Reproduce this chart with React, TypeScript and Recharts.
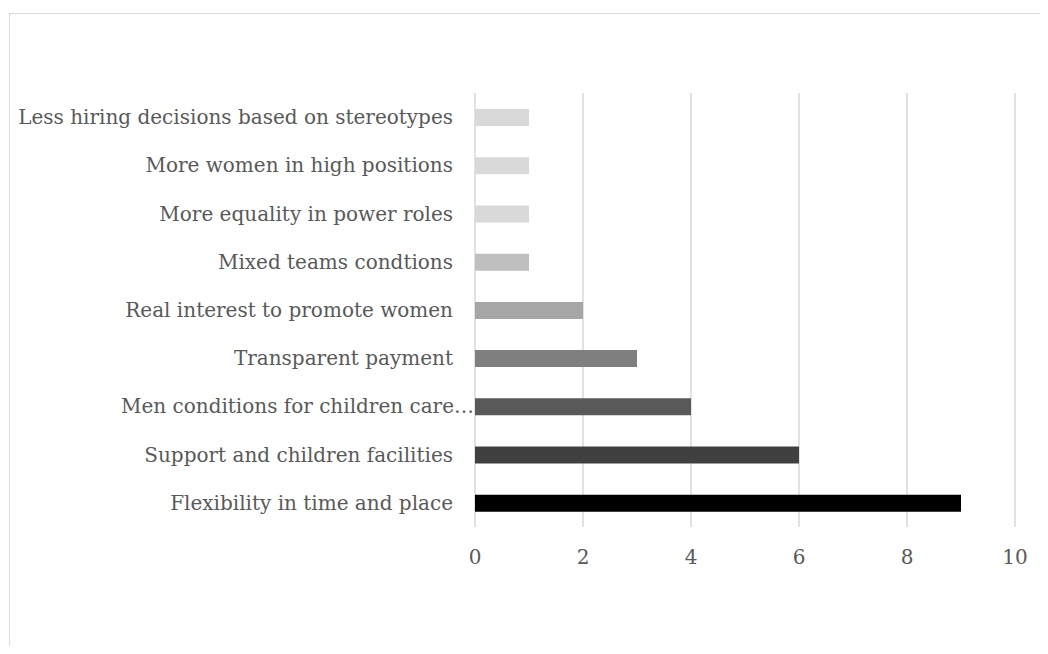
import React from "react";
import { BarChart, Bar, XAxis, YAxis, CartesianGrid, Cell } from "recharts";

const categories = [
  "Less hiring decisions based on stereotypes",
  "More women in high positions",
  "More equality in power roles",
  "Mixed teams condtions",
  "Real interest to promote women",
  "Transparent payment",
  "Men conditions for children care…",
  "Support and children facilities",
  "Flexibility in time and place",
];
const counts = [1, 1, 1, 1, 2, 3, 4, 6, 9];
const barColors = [
  "#d9d9d9",
  "#d9d9d9",
  "#d9d9d9",
  "#bfbfbf",
  "#a6a6a6",
  "#7f7f7f",
  "#595959",
  "#404040",
  "#000000",
];
const xTicks = [0, 2, 4, 6, 8, 10];

const data = categories.map((name, i) => ({ name, value: counts[i] }));

const FONT = '"DejaVu Serif", serif';
const TEXT = "#595959";

// category labels sit right-aligned left of the zero line; the clipped one runs up to it
function CategoryTick(props: any) {
  const { x, y, payload } = props;
  const clipped = String(payload.value).endsWith("…");
  return (
    <text
      x={clipped ? x + 21 : x}
      y={y}
      dy="0.35em"
      textAnchor="end"
      fill={TEXT}
      fontFamily={FONT}
      fontSize={20}
    >
      {payload.value}
    </text>
  );
}

export default function App() {
  return (
    <div
      style={{
        position: "relative",
        width: 1048,
        height: 654,
        margin: -8,
        overflow: "hidden",
        background: "#fff",
      }}
    >
      <div
        style={{
          position: "absolute",
          left: 9,
          top: 13,
          width: 1200,
          height: 800,
          border: "1.5px solid #d9d9d9",
        }}
      />
      <BarChart
        width={1048}
        height={654}
        data={data}
        layout="vertical"
        margin={{ top: 93, right: 33, bottom: 87, left: 0 }}
        barCategoryGap={0}
      >
        <CartesianGrid
          horizontal={false}
          stroke="#d9d9d9"
          strokeWidth={1.5}
        />
        <XAxis
          type="number"
          domain={[0, 10]}
          ticks={xTicks}
          axisLine={false}
          tickLine={false}
          tickSize={0}
          tickMargin={23}
          height={40}
          tick={{ fill: TEXT, fontFamily: FONT, fontSize: 20 }}
        />
        <YAxis
          type="category"
          dataKey="name"
          width={475}
          axisLine={false}
          tickLine={false}
          tickSize={0}
          tickMargin={22}
          interval={0}
          tick={<CategoryTick />}
        />
        <Bar dataKey="value" barSize={17} isAnimationActive={false}>
          {data.map((d, i) => (
            <Cell key={d.name} fill={barColors[i]} />
          ))}
        </Bar>
      </BarChart>
    </div>
  );
}
